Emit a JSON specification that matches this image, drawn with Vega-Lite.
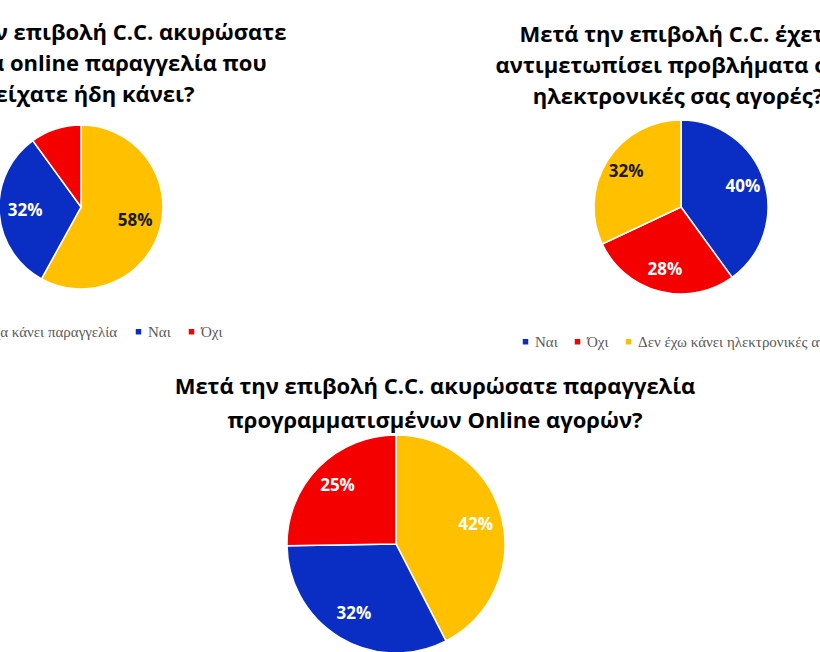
{
  "$schema": "https://vega.github.io/schema/vega-lite/v6.json",
  "width": 820,
  "height": 652,
  "autosize": "none",
  "padding": 0,
  "background": "white",
  "config": {"view": {"stroke": null}, "font": "Open Sans"},
  "datasets": {
    "answers": [
      {"chart": "L", "col": 1, "row": 1, "answer": "Δεν είχα κάνει παραγγελία", "share": 0.58, "order": 1},
      {"chart": "L", "col": 1, "row": 1, "answer": "Ναι", "share": 0.32, "order": 2},
      {"chart": "L", "col": 1, "row": 1, "answer": "Όχι", "share": 0.10, "order": 3},
      {"chart": "R", "col": 3, "row": 1, "answer": "Ναι", "share": 0.40, "order": 1},
      {"chart": "R", "col": 3, "row": 1, "answer": "Όχι", "share": 0.28, "order": 2},
      {"chart": "R", "col": 3, "row": 1, "answer": "Δεν έχω κάνει ηλεκτρονικές αγορές", "share": 0.32, "order": 3},
      {"chart": "B", "col": 2, "row": 2, "answer": "Δεν έχω κάνει ηλεκτρονικές αγορές", "share": 0.42, "order": 1},
      {"chart": "B", "col": 2, "row": 2, "answer": "Ναι", "share": 0.32, "order": 2},
      {"chart": "B", "col": 2, "row": 2, "answer": "Όχι", "share": 0.25, "order": 3}
    ],
    "titles": [
      {"chart": "L", "col": 1, "row": 1, "title": "Μετά την επιβολή C.C. ακυρώσατε\nκάποια online παραγγελία που\nείχατε ήδη κάνει?"},
      {"chart": "R", "col": 3, "row": 1, "title": "Μετά την επιβολή C.C. έχετε\nαντιμετωπίσει προβλήματα στις\nηλεκτρονικές σας αγορές?"},
      {"chart": "B", "col": 2, "row": 2, "title": "Μετά την επιβολή C.C. ακυρώσατε παραγγελία\nπρογραμματισμένων Online αγορών?"}
    ]
  },
  "encoding": {
    "x": {"field": "col", "type": "quantitative", "axis": null,
      "scale": {"domain": [1, 2, 3], "range": [81, 396, 681], "zero": false, "nice": false}},
    "y": {"field": "row", "type": "quantitative", "axis": null,
      "scale": {"domain": [1, 2], "range": [207, 544], "zero": false, "nice": false}}
  },
  "layer": [
    {
      "layer": [
        {
          "data": {"name": "answers"},
          "transform": [{"filter": "datum.chart === 'L'"}],
          "mark": {"type": "arc", "outerRadius": 82, "stroke": "white", "strokeWidth": 1.5},
          "encoding": {
            "theta": {"field": "share", "type": "quantitative", "stack": true},
            "order": {"field": "order", "type": "quantitative"},
            "color": {"field": "answer", "type": "nominal",
              "scale": {"domain": ["Δεν είχα κάνει παραγγελία", "Ναι", "Όχι"], "range": ["#FFC000", "#0A2EC4", "#F50000"]},
              "legend": {"orient": "none", "legendX": -60, "legendY": 324, "direction": "horizontal", "title": null,
                "symbolType": "square", "symbolSize": 30, "symbolStrokeWidth": 0, "labelFont": "Liberation Serif",
                "labelFontSize": 15, "labelColor": "#595959", "columnPadding": 13, "labelOffset": 2, "labelLimit": 400}}
          }
        },
        {
          "data": {"name": "answers"},
          "transform": [{"filter": "datum.chart === 'L'"}],
          "mark": {"type": "text", "radius": 56, "fontWeight": "bold", "fontSize": 17, "align": "center", "baseline": "middle"},
          "encoding": {
            "theta": {"field": "share", "type": "quantitative", "stack": true},
            "order": {"field": "order", "type": "quantitative"},
            "text": {"field": "share", "type": "quantitative", "format": ".0%"},
            "color": {"condition": {"test": "datum.answer === 'Ναι'", "value": "white"}, "value": "#1a1a1a"},
            "opacity": {"condition": {"test": "datum.answer === 'Όχι'", "value": 0}, "value": 1}
          }
        },
        {
          "data": {"name": "titles"},
          "transform": [{"filter": "datum.chart === 'L'"}],
          "mark": {"type": "text", "lineBreak": "\n", "lineHeight": 31, "fontWeight": "bold", "fontSize": 22,
            "align": "center", "baseline": "alphabetic", "dx": 14, "dy": -167, "color": "#000000"},
          "encoding": {"text": {"field": "title"}}
        }
      ]
    },
    {
      "layer": [
        {
          "data": {"name": "answers"},
          "transform": [{"filter": "datum.chart === 'R'"}],
          "mark": {"type": "arc", "outerRadius": 87, "stroke": "white", "strokeWidth": 1.5},
          "encoding": {
            "theta": {"field": "share", "type": "quantitative", "stack": true},
            "order": {"field": "order", "type": "quantitative"},
            "color": {"field": "answer", "type": "nominal",
              "scale": {"domain": ["Ναι", "Όχι", "Δεν έχω κάνει ηλεκτρονικές αγορές"], "range": ["#0A2EC4", "#F50000", "#FFC000"]},
              "legend": {"orient": "none", "legendX": 518, "legendY": 334, "direction": "horizontal", "title": null,
                "symbolType": "square", "symbolSize": 30, "symbolStrokeWidth": 0, "labelFont": "Liberation Serif",
                "labelFontSize": 15, "labelColor": "#595959", "columnPadding": 12, "labelOffset": 2, "labelLimit": 400}}
          }
        },
        {
          "data": {"name": "answers"},
          "transform": [{"filter": "datum.chart === 'R'"}],
          "mark": {"type": "text", "radius": 65, "fontWeight": "bold", "fontSize": 17, "align": "center", "baseline": "middle"},
          "encoding": {
            "theta": {"field": "share", "type": "quantitative", "stack": true},
            "order": {"field": "order", "type": "quantitative"},
            "text": {"field": "share", "type": "quantitative", "format": ".0%"},
            "color": {"condition": {"test": "datum.answer === 'Ναι' || datum.answer === 'Όχι'", "value": "white"}, "value": "#1a1a1a"}
          }
        },
        {
          "data": {"name": "titles"},
          "transform": [{"filter": "datum.chart === 'R'"}],
          "mark": {"type": "text", "lineBreak": "\n", "lineHeight": 31, "fontWeight": "bold", "fontSize": 22,
            "align": "center", "baseline": "alphabetic", "dx": -3, "dy": -165, "color": "#000000"},
          "encoding": {"text": {"field": "title"}}
        }
      ]
    },
    {
      "layer": [
        {
          "data": {"name": "answers"},
          "transform": [{"filter": "datum.chart === 'B'"}],
          "mark": {"type": "arc", "outerRadius": 109, "stroke": "white", "strokeWidth": 1.5},
          "encoding": {
            "theta": {"field": "share", "type": "quantitative", "stack": true},
            "order": {"field": "order", "type": "quantitative"},
            "color": {"field": "answer", "type": "nominal", "legend": null,
              "scale": {"domain": ["Δεν έχω κάνει ηλεκτρονικές αγορές", "Ναι", "Όχι"], "range": ["#FFC000", "#0A2EC4", "#F50000"]}}
          }
        },
        {
          "data": {"name": "answers"},
          "transform": [{"filter": "datum.chart === 'B'"}],
          "mark": {"type": "text", "radius": 82, "fontWeight": "bold", "fontSize": 17, "align": "center", "baseline": "middle", "color": "white"},
          "encoding": {
            "theta": {"field": "share", "type": "quantitative", "stack": true},
            "order": {"field": "order", "type": "quantitative"},
            "text": {"field": "share", "type": "quantitative", "format": ".0%"}
          }
        },
        {
          "data": {"name": "titles"},
          "transform": [{"filter": "datum.chart === 'B'"}],
          "mark": {"type": "text", "lineBreak": "\n", "lineHeight": 34, "fontWeight": "bold", "fontSize": 22,
            "align": "center", "baseline": "alphabetic", "dx": 39, "dy": -150, "color": "#000000"},
          "encoding": {"text": {"field": "title"}}
        }
      ]
    }
  ],
  "resolve": {"scale": {"theta": "independent", "color": "independent"}}
}
